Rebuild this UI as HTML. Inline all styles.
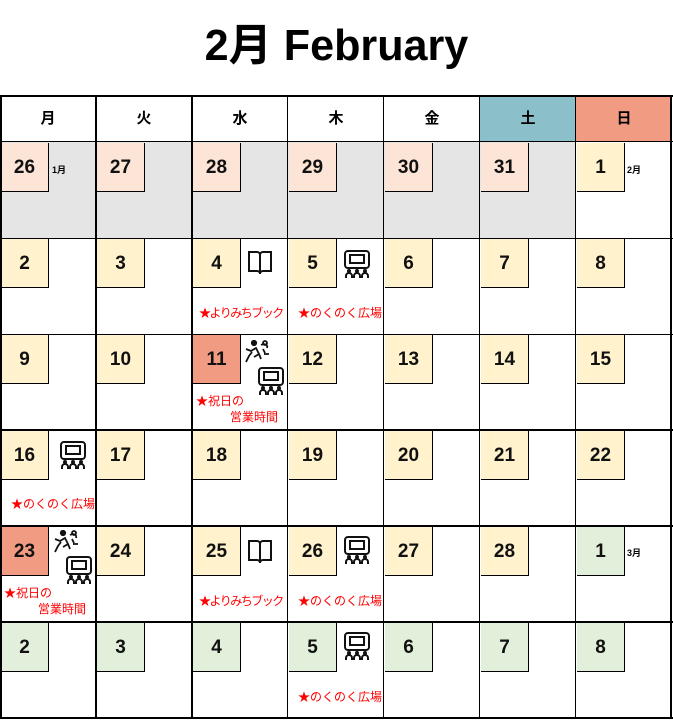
<!DOCTYPE html>
<html><head><meta charset="utf-8">
<style>
*{margin:0;padding:0;box-sizing:border-box}
body{width:673px;height:720px;background:#fff;position:relative;overflow:hidden;font-family:"Liberation Sans","Noto Sans CJK JP",sans-serif}
.t{position:absolute;left:0;width:673px;top:22px;text-align:center;font-size:44px;font-weight:bold;line-height:48px;transform:scaleX(0.98);transform-origin:336px 0;}
.h{position:absolute;top:96px;height:46px;width:96px;text-align:center;line-height:46px;font-size:15px;font-weight:bold}
.g{position:absolute;background:#e5e5e5}
.n{position:absolute;width:48px;height:49px;border-right:1.5px solid #000;border-bottom:1.5px solid #000;text-align:center;line-height:50px;font-size:19px;font-weight:bold;color:#111}
.p{background:#fce4d6}.y{background:#fff2cc}.gr{background:#e2efda}.s{background:#f19c82}
.m{position:absolute;font-size:9px;font-weight:bold}
.r{position:absolute;color:#f00;font-size:12px;white-space:nowrap}
.yb{letter-spacing:-1.5px}
.v{position:absolute;top:96px;width:2px;height:623px;background:#000}
.hl{position:absolute;left:0;width:673px;background:#000}
svg{position:absolute}
</style></head><body>
<div class="t">2月 February</div>
<div class="h" style="left:0">月</div><div class="h" style="left:96px">火</div><div class="h" style="left:192px">水</div><div class="h" style="left:288px">木</div><div class="h" style="left:384px">金</div>
<div class="h" style="left:480px;background:#8bbfca">土</div><div class="h" style="left:576px;background:#f19c82">日</div>
<div class="g" style="left:0;top:142px;width:576px;height:96px"></div>

<div class="n p" style="left:1px;top:143px">26</div><div class="m" style="left:52px;top:163px">1月</div>
<div class="n p" style="left:97px;top:143px">27</div>
<div class="n p" style="left:193px;top:143px">28</div>
<div class="n p" style="left:289px;top:143px">29</div>
<div class="n p" style="left:385px;top:143px">30</div>
<div class="n p" style="left:481px;top:143px">31</div>
<div class="n y" style="left:577px;top:143px">1</div><div class="m" style="left:627px;top:163px">2月</div>

<div class="n y" style="left:1px;top:239px">2</div>
<div class="n y" style="left:97px;top:239px">3</div>
<div class="n y" style="left:193px;top:239px">4</div>
<div class="n y" style="left:289px;top:239px">5</div>
<div class="n y" style="left:385px;top:239px">6</div>
<div class="n y" style="left:481px;top:239px">7</div>
<div class="n y" style="left:577px;top:239px">8</div>

<div class="n y" style="left:1px;top:335px">9</div>
<div class="n y" style="left:97px;top:335px">10</div>
<div class="n s" style="left:193px;top:335px">11</div>
<div class="n y" style="left:289px;top:335px">12</div>
<div class="n y" style="left:385px;top:335px">13</div>
<div class="n y" style="left:481px;top:335px">14</div>
<div class="n y" style="left:577px;top:335px">15</div>

<div class="n y" style="left:1px;top:431px">16</div>
<div class="n y" style="left:97px;top:431px">17</div>
<div class="n y" style="left:193px;top:431px">18</div>
<div class="n y" style="left:289px;top:431px">19</div>
<div class="n y" style="left:385px;top:431px">20</div>
<div class="n y" style="left:481px;top:431px">21</div>
<div class="n y" style="left:577px;top:431px">22</div>

<div class="n s" style="left:1px;top:527px">23</div>
<div class="n y" style="left:97px;top:527px">24</div>
<div class="n y" style="left:193px;top:527px">25</div>
<div class="n y" style="left:289px;top:527px">26</div>
<div class="n y" style="left:385px;top:527px">27</div>
<div class="n y" style="left:481px;top:527px">28</div>
<div class="n gr" style="left:577px;top:527px">1</div><div class="m" style="left:627px;top:546px">3月</div>

<div class="n gr" style="left:1px;top:623px">2</div>
<div class="n gr" style="left:97px;top:623px">3</div>
<div class="n gr" style="left:193px;top:623px">4</div>
<div class="n gr" style="left:289px;top:623px">5</div>
<div class="n gr" style="left:385px;top:623px">6</div>
<div class="n gr" style="left:481px;top:623px">7</div>
<div class="n gr" style="left:577px;top:623px">8</div>

<div class="r yb" style="left:199px;top:304px">★よりみちブック</div>
<div class="r" style="left:298px;top:304px">★のくのく広場</div>
<div class="r" style="left:196px;top:392px">★祝日の</div>
<div class="r" style="left:230px;top:408px">営業時間</div>
<div class="r" style="left:11px;top:495px">★のくのく広場</div>
<div class="r" style="left:4px;top:584px">★祝日の</div>
<div class="r" style="left:38px;top:600px">営業時間</div>
<div class="r yb" style="left:199px;top:592px">★よりみちブック</div>
<div class="r" style="left:298px;top:592px">★のくのく広場</div>
<div class="r" style="left:298px;top:688px">★のくのく広場</div>

<svg width="0" height="0"><defs>
<g id="pr" fill="none" stroke="#111" stroke-width="2">
<rect x="2" y="2" width="24" height="17" rx="3"/><rect x="7" y="6" width="14" height="8"/>
<g fill="#111" stroke="none"><circle cx="6" cy="22" r="2"/><circle cx="14" cy="22" r="2"/><circle cx="22" cy="22" r="2"/></g>
<path d="M3 29v-2a3 3 0 0 1 6 0v2M11 29v-2a3 3 0 0 1 6 0v2M19 29v-2a3 3 0 0 1 6 0v2"/></g>
<g id="bk" fill="none" stroke="#111" stroke-width="2">
<path d="M2 4h8a3 3 0 0 1 3 3v19a3 3 0 0 0-3-3H2z"/><path d="M24 4h-8a3 3 0 0 0-3 3v19a3 3 0 0 1 3-3h8z"/></g>
<g id="dn" fill="none" stroke="#111" stroke-width="1.8">
<circle cx="10" cy="3" r="2.2" fill="#111"/><path d="M2 9l5 2 5-3 3 6-5 3M8 12l-3 4-3 6M15 14l2 5M17 5c4-2 7 0 6 3M19 9l2 4M20 14h5"/><circle cx="21" cy="3" r="2"/></g>
</defs></svg>
<svg style="left:247px;top:248px" width="26" height="28"><use href="#bk"/></svg>
<svg style="left:343px;top:249px" width="28" height="31"><use href="#pr"/></svg>
<svg style="left:244px;top:340px" width="26" height="24"><use href="#dn"/></svg>
<svg style="left:257px;top:366px" width="28" height="31"><use href="#pr"/></svg>
<svg style="left:59px;top:440px" width="28" height="31"><use href="#pr"/></svg>
<svg style="left:53px;top:530px" width="26" height="24"><use href="#dn"/></svg>
<svg style="left:65px;top:555px" width="28" height="31"><use href="#pr"/></svg>
<svg style="left:247px;top:537px" width="26" height="28"><use href="#bk"/></svg>
<svg style="left:343px;top:535px" width="28" height="31"><use href="#pr"/></svg>
<svg style="left:343px;top:631px" width="28" height="31"><use href="#pr"/></svg>

<div class="v" style="left:0"></div><div class="v" style="left:95px"></div><div class="v" style="left:191px"></div>
<div class="v" style="left:287px;width:1px"></div><div class="v" style="left:383px;width:1px"></div><div class="v" style="left:479px;width:1px"></div><div class="v" style="left:575px;width:1px"></div><div class="v" style="left:670px"></div>
<div class="hl" style="top:95px;height:2px"></div>
<div class="hl" style="top:141px;height:1px"></div>
<div class="hl" style="top:238px;height:1px"></div>
<div class="hl" style="top:334px;height:1px"></div>
<div class="hl" style="top:429px;height:2px"></div>
<div class="hl" style="top:525px;height:2px"></div>
<div class="hl" style="top:621px;height:2px"></div>
<div class="hl" style="top:717px;height:2px"></div>
</body></html>
